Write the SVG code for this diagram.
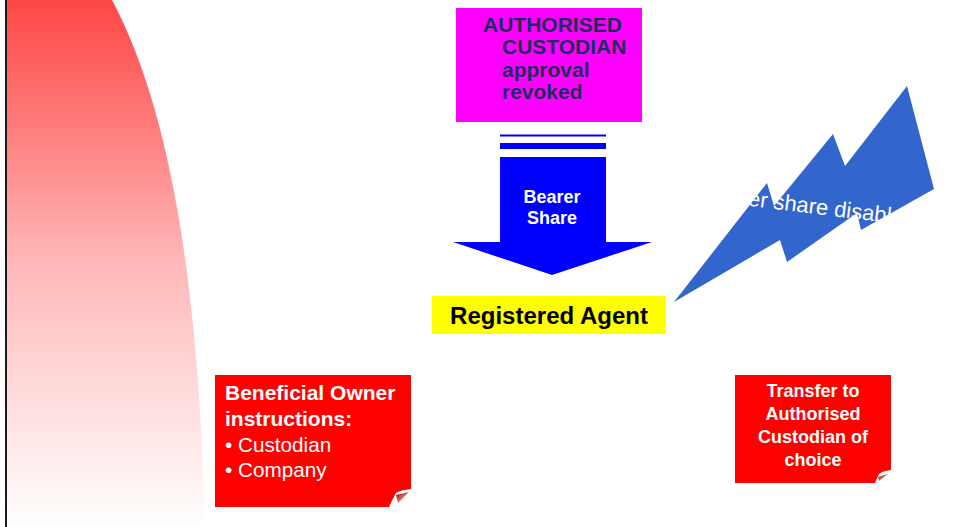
<svg xmlns="http://www.w3.org/2000/svg" width="953" height="527" viewBox="0 0 953 527">
<defs>
<linearGradient id="fade" x1="0" y1="0" x2="0" y2="1">
<stop offset="0" stop-color="#ff4646"/>
<stop offset="0.5" stop-color="#ffb8b8"/>
<stop offset="1" stop-color="#ffffff"/>
</linearGradient>
<linearGradient id="foldg" x1="0" y1="0" x2="1" y2="1">
<stop offset="0" stop-color="#a00000"/>
<stop offset="1" stop-color="#ffd0d0"/>
</linearGradient>
</defs>
<style>
text{font-family:"Liberation Sans",Arial,sans-serif;}
.b{font-weight:bold;}
.w{fill:#ffffff;}
.red{fill:#ff0000;}
.navy{fill:#1c2e5c;}
</style>
<rect x="0" y="0" width="953" height="527" fill="#ffffff"/>
<path d="M7,0 L112,0 C165,100 198,260 205,527 L7,527 Z" fill="url(#fade)"/>
<line x1="6" y1="0" x2="6" y2="527" stroke="#1a1a1a" stroke-width="2"/>

<g id="connectors">
<g id="bearer-arrow">
<rect x="500" y="134.5" width="106" height="2" fill="#0000ff"/>
<rect x="500" y="143" width="106" height="6" fill="#0000ff"/>
<path d="M500,157 H606 V242 H652 L552,275 L453,242 H500 Z" fill="#0000ff"/>
<text class="b w" x="552" y="203" font-size="18" text-anchor="middle">Bearer</text>
<text class="b w" x="552" y="224" font-size="18" text-anchor="middle">Share</text>
</g>
<g id="bolt">
<polygon points="674,302 767,183 774,206 833,134 845,166 907,86 934,189 861,230 857,213 787,262 780,240" fill="#3366cc"/>
<text class="w" x="808" y="213" font-size="22" text-anchor="middle" transform="rotate(7 808 213)">Bearer share disabled</text>
</g>
</g>

<g id="node-custodian">
<rect x="456" y="8" width="186" height="114" fill="#ff00ff"/>
<text class="b navy" x="483" y="32" font-size="21">AUTHORISED</text>
<text class="b navy" x="502" y="54" font-size="21">CUSTODIAN</text>
<text class="b navy" x="502" y="77" font-size="21">approval</text>
<text class="b navy" x="502" y="99" font-size="21">revoked</text>
</g>

<g id="node-agent">
<rect x="432" y="296" width="234" height="38" fill="#ffff00"/>
<text class="b" x="549" y="324" font-size="24" text-anchor="middle" fill="#000000">Registered Agent</text>
</g>

<g id="node-owner">
<path class="red" d="M215,375 H411 V489 Q400,490 396,493 Q392,500 389,507 H215 Z"/>
<polygon points="396,495 409,492 398,503" fill="url(#foldg)"/>
<text class="b w" x="225" y="400" font-size="21">Beneficial Owner</text>
<text class="b w" x="225" y="426" font-size="21">instructions:</text>
<text class="w" x="225" y="452" font-size="20.7">• Custodian</text>
<text class="w" x="225" y="477" font-size="20.7">• Company</text>
</g>

<g id="node-transfer">
<path class="red" d="M735,375 H891 V470 Q882,471 879,474 Q877,478 875,483 H735 Z"/>
<polygon points="878,477 888,474 879,481" fill="url(#foldg)"/>
<text class="b w" x="813" y="397" font-size="18" text-anchor="middle">Transfer to</text>
<text class="b w" x="813" y="420" font-size="18" text-anchor="middle">Authorised</text>
<text class="b w" x="813" y="443" font-size="18" text-anchor="middle">Custodian of</text>
<text class="b w" x="813" y="466" font-size="18" text-anchor="middle">choice</text>
</g>
</svg>
